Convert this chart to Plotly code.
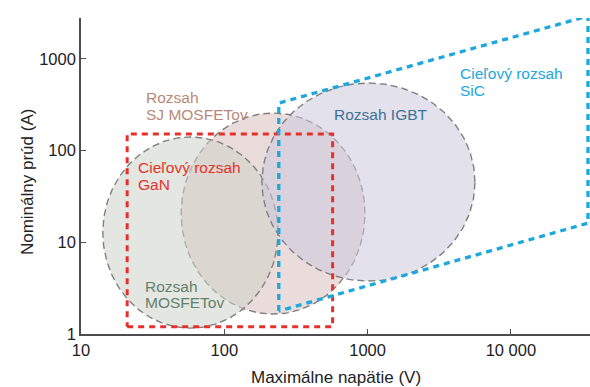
import numpy as np
import plotly.graph_objects as go

# Operating ranges of power device families (voltage in V, current in A)
region_v_min = [14.2, 50.0, 183.0]
region_v_max = [237.0, 959.0, 5610.0]
region_i_min = [1.16, 1.65, 3.78]
region_i_max = [141.0, 257.0, 546.0]

# Target range of GaN (rectangle)
gan_v = [21.0, 570.0]
gan_i = [1.2, 152.0]

# Target range of SiC (quadrilateral)
sic_v = [240.0, 240.0, 34500.0, 34500.0, 240.0]
sic_i = [1.78, 330.0, 2940.0, 16.2, 1.78]

x_tickvals = [10, 100, 1000, 10000]
x_ticktext = ["10", "100", "1000", "10 000"]
y_tickvals = [1, 10, 100, 1000]
y_ticktext = ["1", "10", "100", "1000"]

fill_colors = ["rgba(206,211,201,0.55)", "rgba(216,192,187,0.55)", "rgba(203,201,221,0.55)"]
FONT = "Liberation Sans, Arial, Helvetica, sans-serif"

fig = go.Figure()

# Ellipses drawn in log-log space (SJ first, MOSFET over it, IGBT on top)
t = np.linspace(0, 2 * np.pi, 241)
for k in [1, 0, 2]:
    lx0, lx1 = np.log10(region_v_min[k]), np.log10(region_v_max[k])
    ly0, ly1 = np.log10(region_i_min[k]), np.log10(region_i_max[k])
    cx, cy = (lx0 + lx1) / 2, (ly0 + ly1) / 2
    rx, ry = (lx1 - lx0) / 2, (ly1 - ly0) / 2
    fig.add_trace(go.Scatter(
        x=10 ** (cx + rx * np.cos(t)), y=10 ** (cy + ry * np.sin(t)),
        mode="lines", fill="toself", fillcolor=fill_colors[k],
        line=dict(color="#808080", width=1.4, dash="7px,4px"),
        hoverinfo="skip", showlegend=False))

# GaN rectangle
fig.add_trace(go.Scatter(
    x=[gan_v[0], gan_v[1], gan_v[1], gan_v[0], gan_v[0]],
    y=[gan_i[0], gan_i[0], gan_i[1], gan_i[1], gan_i[0]],
    mode="lines", line=dict(color="#e8302a", width=3, dash="6px,5px"),
    hoverinfo="skip", showlegend=False))

# SiC polygon
fig.add_trace(go.Scatter(
    x=sic_v, y=sic_i, mode="lines",
    line=dict(color="#1ca7dd", width=3.3, dash="6px,5px"),
    hoverinfo="skip", showlegend=False))

# Region labels, one annotation per line (log10 coordinates)
labels = [
    ("Rozsah", 1.44, 2.58, "#b8897a"),
    ("SJ MOSFETov", 1.44, 2.39, "#b8897a"),
    ("Cieľový rozsah", 1.384, 1.82, "#e5332b"),
    ("GaN", 1.384, 1.63, "#e5332b"),
    ("Rozsah IGBT", 2.752, 2.39, "#3d7196"),
    ("Cieľový rozsah", 3.631, 2.845, "#1ca7dd"),
    ("SiC", 3.631, 2.655, "#1ca7dd"),
    ("Rozsah", 1.433, 0.52, "#64806c"),
    ("MOSFETov", 1.433, 0.34, "#64806c"),
]
for text, lx, ly, col in labels:
    fig.add_annotation(x=lx, y=ly, xref="x", yref="y", text=text,
                       showarrow=False, xanchor="left", yanchor="middle",
                       align="left", font=dict(family=FONT, size=15.5, color=col))

# Axis titles
fig.add_annotation(x=0.5, y=-0.138, xref="paper", yref="paper",
                   text="Maximálne napätie (V)", showarrow=False,
                   xanchor="center", yanchor="middle",
                   font=dict(family=FONT, size=17, color="#222222"))
fig.add_annotation(x=-0.106, y=0.481, xref="paper", yref="paper",
                   text="Nominálny prúd (A)", showarrow=False, textangle=-90,
                   xanchor="center", yanchor="middle",
                   font=dict(family=FONT, size=17, color="#222222"))

axis_common = dict(
    showgrid=False, zeroline=False, showline=True, linecolor="#4d4d4d",
    linewidth=1.6, ticks="inside", ticklen=5, tickwidth=1.4, tickcolor="#4d4d4d",
    tickfont=dict(family=FONT, size=16.5, color="#222222"),
)

fig.update_xaxes(type="log", range=[1, 4.552], tickvals=x_tickvals, ticktext=x_ticktext,
                 **axis_common)
fig.update_yaxes(type="log", range=[0, 3.447], tickvals=y_tickvals, ticktext=y_ticktext,
                 **axis_common)

fig.update_layout(
    width=590, height=387,
    margin=dict(l=81, r=0, t=18, b=53),
    paper_bgcolor="white", plot_bgcolor="white",
)

fig.write_html("out.html")
